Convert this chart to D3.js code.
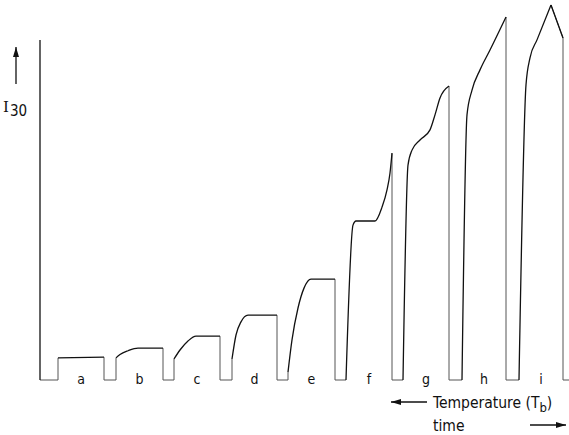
<!DOCTYPE html>
<html>
<head>
<meta charset="utf-8">
<script src="https://cdn.jsdelivr.net/npm/d3@7"></script>
<style>
  body { margin: 0; background: #fff; }
  text { font-family: "DejaVu Sans Condensed", "DejaVu Sans", sans-serif; fill: #111; }
</style>
</head>
<body>
<div id="chart-area"></div>
<script>
// pulse labels and the measured I30 profile of each heating pulse: [time, I30]
var pulseLabels = ["a", "b", "c", "d", "e", "f", "g", "h", "i"];
var pulseProfiles = [
    [[1.8, 5.9], [6.4, 6.1]],
    [[7.6, 5.9], [8.0, 6.8], [8.8, 7.8], [9.8, 8.5], [12.3, 8.5]],
    [[13.4, 5.6], [14.0, 8.0], [14.8, 10.4], [15.6, 11.7], [18.0, 11.7]],
    [[19.2, 5.6], [19.6, 12.0], [20.1, 15.5], [20.8, 17.3], [23.7, 17.3]],
    [[24.8, 2.1], [25.2, 10.7], [25.8, 19.2], [26.4, 24.5], [27.1, 26.9], [29.5, 26.9]],
    [[30.6, 0], [31.3, 41.3], [31.6, 42.4], [33.5, 42.4], [34.2, 46.1], [34.7, 50.7], [35.0, 55.2], [35.2, 60.5]],
    [[36.3, 0], [36.8, 57.3], [37.2, 61.3], [38.0, 64.0], [39.0, 66.7], [39.5, 70.7], [40.0, 75.2], [40.9, 78.4]],
    [[42.2, 0], [42.7, 70.7], [43.2, 77.3], [44.0, 82.7], [45.0, 88.0], [46.6, 96.8]],
    [[47.9, 0], [48.6, 78.7], [49.0, 85.9], [49.7, 90.7], [51.1, 100]]
];
var lastShoulder = [52.3, 91.2];
var startLevel = 90.7;
var endTime = 52.9;

var width = 569, height = 435;

var svg = d3.select("#chart-area")
    .append("svg")
        .attr("width", width)
        .attr("height", height);

var x = d3.scaleLinear().domain([0, 53]).range([40, 570]);
var y = d3.scaleLinear().domain([0, 100]).range([380, 5]);

var line = d3.line()
    .x(d => x(d[0]))
    .y(d => y(d[1]));

var smooth = d3.line()
    .x(d => x(d[0]))
    .y(d => y(d[1]))
    .curve(d3.curveMonotoneX);

// baseline pieces + drops (lighter, as in the scanned trace)
var base = [[[0, 0], [pulseProfiles[0][0][0], 0], pulseProfiles[0][0]]];
pulseProfiles.forEach((p, i) => {
    var last = p[p.length - 1];
    var next = pulseProfiles[i + 1];
    var seg = [last];
    if (next) {
        seg.push([last[0], 0], [next[0][0], 0], next[0]);
    } else {
        seg.push(lastShoulder, [lastShoulder[0], 0], [endTime, 0]);
    }
    base.push(seg);
});

svg.selectAll(".base")
    .data(base)
    .enter().append("path")
        .attr("class", "base")
        .attr("d", line)
        .attr("fill", "none")
        .attr("stroke", "#555")
        .attr("stroke-width", 1);

svg.selectAll(".pulse")
    .data(pulseProfiles)
    .enter().append("path")
        .attr("class", "pulse")
        .attr("d", d => smooth(d))
        .attr("fill", "none")
        .attr("stroke", "#111")
        .attr("stroke-width", 1.3)
        .attr("stroke-linejoin", "round");

// the first vertical line and i's falling shoulder are dark
svg.append("path")
    .attr("d", line([[0, startLevel], [0, 0]]))
    .attr("stroke", "#111")
    .attr("stroke-width", 1.3);
svg.append("path")
    .attr("d", line([pulseProfiles[8][pulseProfiles[8].length - 1], lastShoulder]))
    .attr("stroke", "#111")
    .attr("stroke-width", 1.3);

// pulse labels
svg.selectAll(".lbl")
    .data(pulseLabels)
    .enter().append("text")
        .attr("class", "lbl")
        .attr("x", (d, i) => {
            var p = pulseProfiles[i];
            var end = i == 8 ? lastShoulder[0] : p[p.length - 1][0];
            return x((p[0][0] + end) / 2);
        })
        .attr("y", 384)
        .attr("text-anchor", "middle")
        .style("font-size", "14px")
        .text(d => d);

// arrow marker
svg.append("defs").append("marker")
    .attr("id", "arr")
    .attr("viewBox", "0 0 10 6")
    .attr("refX", 10).attr("refY", 3)
    .attr("markerWidth", 10).attr("markerHeight", 6)
    .attr("markerUnits", "userSpaceOnUse")
    .attr("orient", "auto")
  .append("path")
    .attr("d", "M0,0L10,3L0,6Z")
    .attr("fill", "#111");

// y label with arrow
svg.append("line")
    .attr("x1", 16).attr("y1", 84).attr("x2", 16).attr("y2", 47)
    .attr("stroke", "#111").attr("stroke-width", 1.3)
    .attr("marker-end", "url(#arr)");

var ylab = svg.append("text")
    .attr("x", 3).attr("y", 112)
    .style("font-size", "15px");
ylab.append("tspan").style("font-family", "DejaVu Serif").text("I");
ylab.append("tspan").attr("dy", 4).attr("dx", 1).text("30");

// x annotations
svg.append("line")
    .attr("x1", 427).attr("y1", 402).attr("x2", 391).attr("y2", 402)
    .attr("stroke", "#111").attr("stroke-width", 1.3)
    .attr("marker-end", "url(#arr)");

var tlab = svg.append("text")
    .attr("x", 433).attr("y", 408)
    .style("font-size", "15.5px");
tlab.append("tspan").text("Temperature (T");
tlab.append("tspan").attr("dy", 4).style("font-size", "13px").text("b");
tlab.append("tspan").attr("dy", -4).text(")");

svg.append("text")
    .attr("x", 433).attr("y", 431)
    .style("font-size", "15.5px")
    .text("time");

svg.append("line")
    .attr("x1", 530).attr("y1", 425).attr("x2", 566).attr("y2", 425)
    .attr("stroke", "#111").attr("stroke-width", 1.3)
    .attr("marker-end", "url(#arr)");
</script>
</body>
</html>
